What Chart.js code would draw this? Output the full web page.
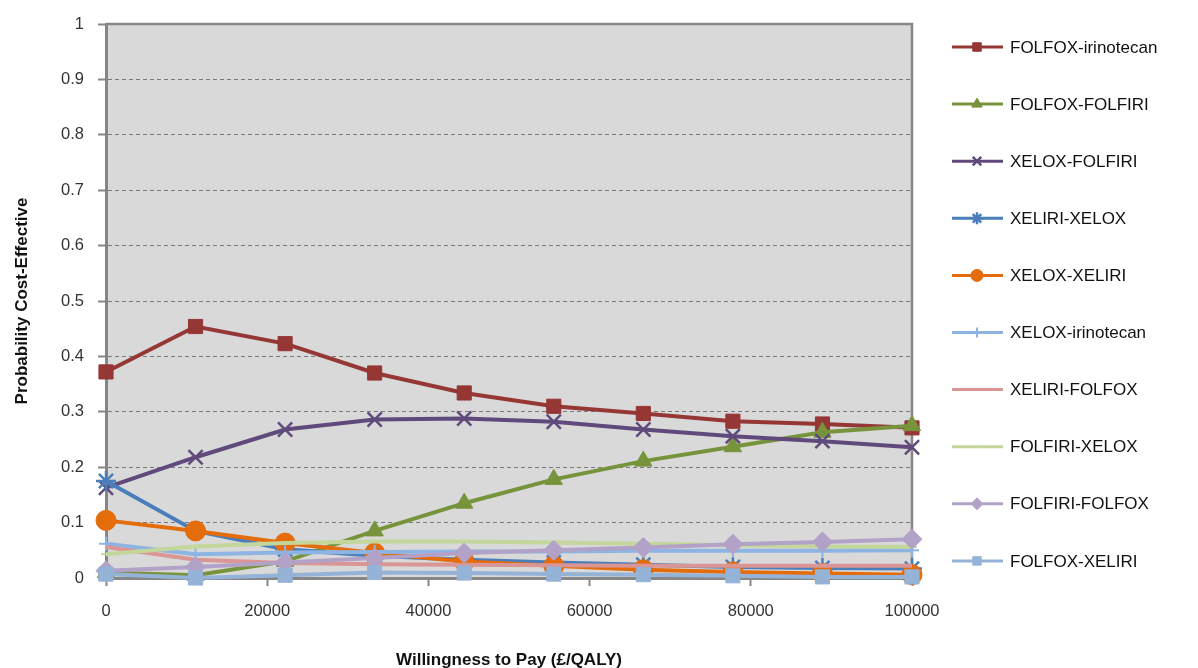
<!DOCTYPE html>
<html>
<head>
<meta charset="utf-8">
<script src="https://cdn.jsdelivr.net/npm/chart.js@4.4.0/dist/chart.umd.min.js"></script>
<style>
html,body{margin:0;padding:0;background:#fff;}
#wrap{width:1198px;height:668px;position:relative;}
</style>
</head>
<body>
<div id="wrap"><canvas id="c" width="1198" height="668"></canvas></div>
<script>
const wtp = [0, 11111, 22222, 33333, 44444, 55556, 66667, 77778, 88889, 100000];
const xTicks = [0, 20000, 40000, 60000, 80000, 100000];
const yTicks = [0, 0.1, 0.2, 0.3, 0.4, 0.5, 0.6, 0.7, 0.8, 0.9, 1];

const folfoxIrinotecan = [0.372, 0.454, 0.423, 0.370, 0.334, 0.310, 0.297, 0.283, 0.278, 0.271];
const folfoxFolfiri    = [0.010, 0.005, 0.030, 0.085, 0.135, 0.178, 0.211, 0.237, 0.263, 0.275];
const xeloxFolfiri     = [0.163, 0.218, 0.268, 0.286, 0.288, 0.282, 0.268, 0.256, 0.247, 0.236];
const xeliriXelox      = [0.175, 0.085, 0.052, 0.040, 0.033, 0.028, 0.024, 0.020, 0.018, 0.017];
const xeloxXeliri      = [0.104, 0.085, 0.063, 0.045, 0.030, 0.022, 0.015, 0.011, 0.008, 0.006];
const xeloxIrinotecan  = [0.062, 0.043, 0.046, 0.047, 0.048, 0.048, 0.049, 0.049, 0.049, 0.050];
const xeliriFolfox     = [0.056, 0.033, 0.027, 0.025, 0.024, 0.023, 0.022, 0.022, 0.022, 0.022];
const folfiriXelox     = [0.043, 0.057, 0.063, 0.066, 0.066, 0.064, 0.062, 0.059, 0.057, 0.056];
const folfiriFolfox    = [0.013, 0.020, 0.028, 0.036, 0.045, 0.050, 0.055, 0.061, 0.065, 0.070];
const folfoxXeliri     = [0.007, 0.000, 0.005, 0.010, 0.009, 0.007, 0.006, 0.004, 0.002, 0.002];

const seriesNames = ['FOLFOX-irinotecan','FOLFOX-FOLFIRI','XELOX-FOLFIRI','XELIRI-XELOX','XELOX-XELIRI',
  'XELOX-irinotecan','XELIRI-FOLFOX','FOLFIRI-XELOX','FOLFIRI-FOLFOX','FOLFOX-XELIRI'];
const seriesValues = [folfoxIrinotecan, folfoxFolfiri, xeloxFolfiri, xeliriXelox, xeloxXeliri,
  xeloxIrinotecan, xeliriFolfox, folfiriXelox, folfiriFolfox, folfoxXeliri];

const styles = [
  {color:'#953735', point:'rect', r:10, bw:1},
  {color:'#77933C', point:'triangle', r:10, bw:1},
  {color:'#604A7B', point:'crossRot', r:10, bw:2.5},
  {color:'#4A7EBB', point:'star', r:10, bw:2.5},
  {color:'#E46C0A', point:'circle', r:10, bw:1},
  {color:'#8EB4E3', point:'cross', r:7, bw:2},
  {color:'#D99694', point:false, r:0, bw:1},
  {color:'#C3D69B', point:'line', r:5, bw:2},
  {color:'#B3A2C7', point:'rectRot', r:10, bw:1},
  {color:'#95B3D7', point:'rect', r:10, bw:1}
];

const n = seriesNames.length;
const datasets = seriesNames.map((name, i) => {
  const s = styles[i];
  return {
    label: name,
    data: wtp.map((x, k) => ({x: x, y: seriesValues[i][k]})),
    borderColor: s.color,
    backgroundColor: s.color,
    borderWidth: 4,
    pointStyle: s.point,
    pointRadius: s.r,
    pointBorderWidth: s.bw,
    pointBackgroundColor: s.color,
    pointBorderColor: s.color,
    tension: 0,
    clip: false,
    order: n - i
  };
});

const bgPlugin = {
  id: 'plotBg',
  beforeDraw(chart) {
    const {ctx, chartArea: a} = chart;
    ctx.save();
    ctx.fillStyle = '#D9D9D9';
    ctx.fillRect(a.left, a.top, a.right - a.left, a.bottom - a.top);
    ctx.restore();
  },
  beforeDatasetsDraw(chart) {
    const {ctx, chartArea: a} = chart;
    ctx.save();
    ctx.strokeStyle = '#868686';
    ctx.lineWidth = 2.5;
    ctx.beginPath();
    ctx.moveTo(a.left, a.top);
    ctx.lineTo(a.right, a.top);
    ctx.lineTo(a.right, a.bottom);
    ctx.stroke();
    ctx.restore();
  }
};

const legendPlugin = {
  id: 'sideLegend',
  afterDraw(chart) {
    const {ctx} = chart;
    ctx.save();
    const x0 = 952, x1 = 1003, xm = 977, tx = 1010;
    const y0 = 47, dy = 57.1;
    ctx.font = '17px "Liberation Sans", Arial, sans-serif';
    ctx.textBaseline = 'middle';
    ctx.textAlign = 'left';
    chart.data.datasets.forEach((ds, i) => {
      const y = y0 + i * dy;
      ctx.strokeStyle = ds.borderColor;
      ctx.lineWidth = 3;
      ctx.beginPath();
      ctx.moveTo(x0, y); ctx.lineTo(x1, y);
      ctx.stroke();
      if (ds.pointStyle) {
        ctx.fillStyle = ds.borderColor;
        ctx.strokeStyle = ds.borderColor;
        ctx.lineWidth = ds.pointBorderWidth;
        const r = ds.pointStyle === 'line' ? 4 : Math.max(5, ds.pointRadius * 0.6);
        Chart.helpers.drawPoint(ctx, {pointStyle: ds.pointStyle, radius: r, rotation: 0, borderWidth: ds.pointBorderWidth}, xm, y);
      }
      ctx.fillStyle = '#111';
      ctx.fillText(ds.label, tx, y + 1);
    });
    ctx.restore();
  }
};

new Chart(document.getElementById('c'), {
  type: 'line',
  data: {datasets},
  options: {
    responsive: false,
    animation: false,
    devicePixelRatio: 1,
    layout: {padding: {left: 0, top: 24, right: 286, bottom: 0}},
    plugins: {legend: {display: false}, tooltip: {enabled: false}},
    scales: {
      x: {
        type: 'linear',
        min: 0, max: 100000,
        afterBuildTicks(scale) { scale.ticks = xTicks.map(v => ({value: v})); },
        afterFit(scale) { scale.height = 90; },
        ticks: {
          padding: 16,
          color: '#333',
          font: {family: '"Liberation Sans", Arial, sans-serif', size: 16.5},
          maxRotation: 0,
          callback: v => String(v)
        },
        grid: {drawOnChartArea: false, drawTicks: true, tickLength: 8, tickColor: '#868686', tickWidth: 2},
        border: {color: '#868686', width: 3},
        title: {
          display: true,
          text: 'Willingness to Pay (£/QALY)',
          color: '#111',
          font: {family: '"Liberation Sans", Arial, sans-serif', size: 17, weight: 'bold'},
          padding: {top: 0, bottom: -3}
        }
      },
      y: {
        min: 0, max: 1,
        afterBuildTicks(scale) { scale.ticks = yTicks.map(v => ({value: v})); },
        afterFit(scale) { scale.width = 106; },
        ticks: {
          padding: 14,
          color: '#333',
          font: {family: '"Liberation Sans", Arial, sans-serif', size: 16.5},
          callback: v => String(Math.round(v * 10) / 10)
        },
        grid: {
          color: '#7a7a7a', lineWidth: 1,
          drawTicks: true, tickLength: 8, tickColor: '#868686', tickWidth: 2, tickBorderDash: []
        },
        border: {color: '#868686', width: 3, dash: [4, 3]},
        title: {
          display: true,
          text: 'Probability Cost-Effective',
          color: '#111',
          font: {family: '"Liberation Sans", Arial, sans-serif', size: 17, weight: 'bold'},
          padding: {top: 12, bottom: 0}
        }
      }
    }
  },
  plugins: [bgPlugin, legendPlugin]
});
</script>
</body>
</html>
